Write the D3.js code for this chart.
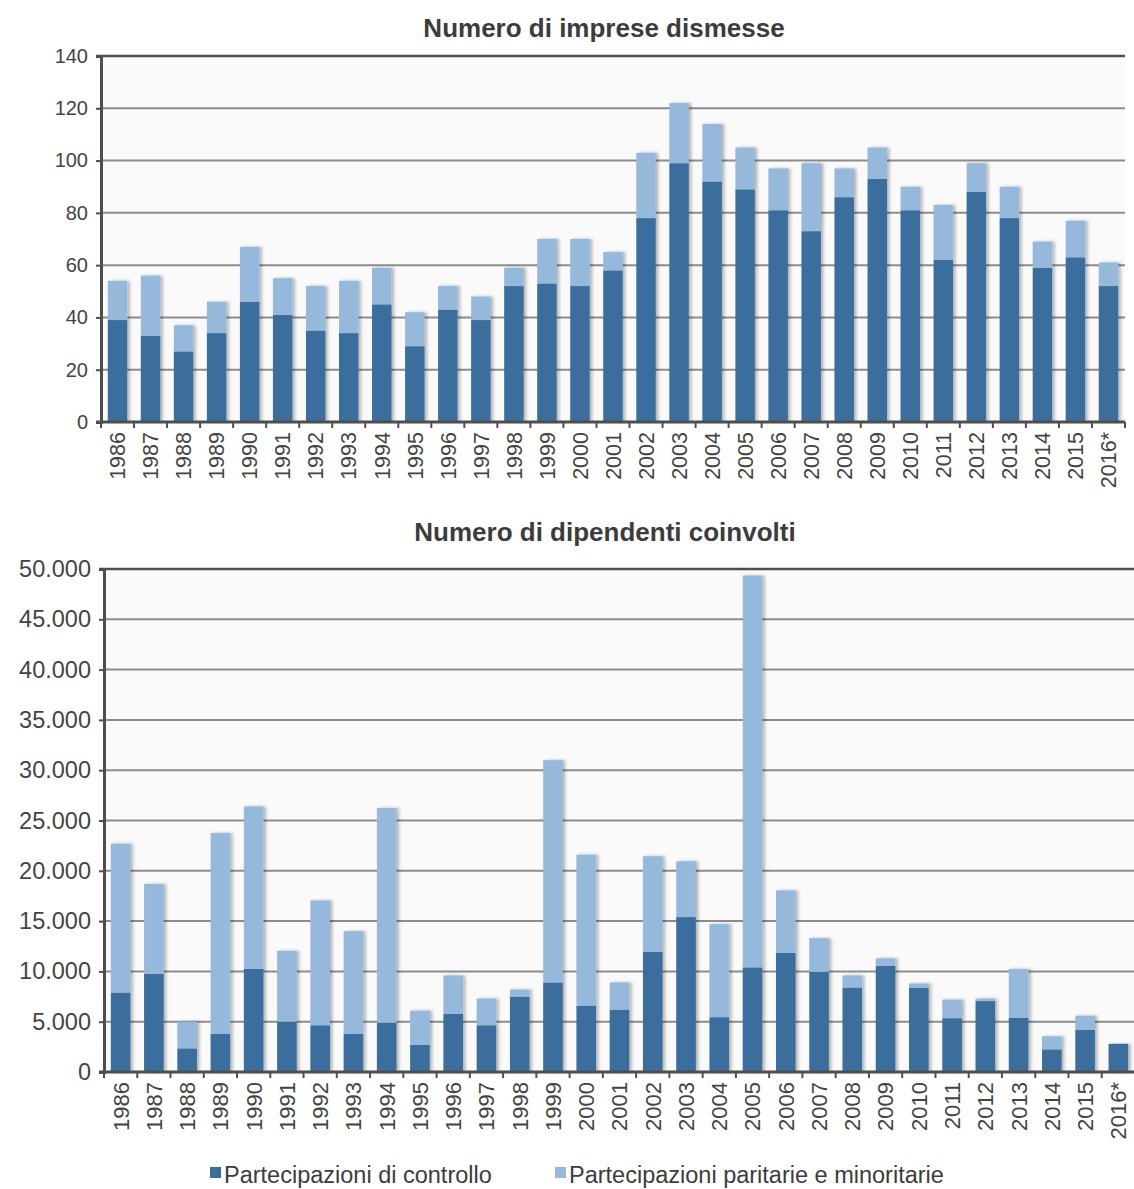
<!DOCTYPE html>
<html>
<head>
<meta charset="utf-8">
<script src="https://cdn.jsdelivr.net/npm/d3@7"></script>
<style>
  html, body { margin: 0; padding: 0; background: #ffffff; }
  svg { display: block; font-family: "Liberation Sans", Arial, Helvetica, sans-serif; }
</style>
</head>
<body>
<svg id="chart" width="1134" height="1189"></svg>
<script>
// Anni di riferimento (2016* = dato provvisorio)
const years = ["1986","1987","1988","1989","1990","1991","1992","1993","1994","1995",
  "1996","1997","1998","1999","2000","2001","2002","2003","2004","2005","2006","2007",
  "2008","2009","2010","2011","2012","2013","2014","2015","2016*"];

// Numero di imprese dismesse
const impreseControllo = [39,33,27,34,46,41,35,34,45,29,43,39,52,53,52,58,78,99,92,89,81,73,86,93,81,62,88,78,59,63,52];
const impreseMinoritarie = [15,23,10,12,21,14,17,20,14,13,9,9,7,17,18,7,25,23,22,16,16,26,11,12,9,21,11,12,10,14,9];
const impreseTicks = [0,20,40,60,80,100,120,140];

// Numero di dipendenti coinvolti
const dipendentiControllo = [7900,9750,2350,3800,10250,5000,4650,3800,4900,2700,5800,4650,7500,8900,6600,
  6200,11950,15400,5450,10400,11850,9950,8400,10550,8350,5350,7050,5400,2250,4200,2800];
const dipendentiMinoritarie = [14800,8950,2650,19950,16150,7050,12400,10200,21350,3400,3800,2650,700,22100,15000,
  2700,9500,5550,9250,38950,6200,3350,1200,750,450,1850,250,4850,1300,1400,0];
const dipendentiTicks = [0,5000,10000,15000,20000,25000,30000,35000,40000,45000,50000];

const seriesNames = ["Partecipazioni di controllo", "Partecipazioni paritarie e minoritarie"];
const seriesColors = ["#3b6e9c", "#96b9db"];

const itLocale = d3.formatLocale({ decimal: ",", thousands: ".", grouping: [3], currency: ["€", ""] });
const fmtIt = itLocale.format(",d");

const svg = d3.select("#chart");

// soft shadow on the right side of each bar
const defs = svg.append("defs");
const shadow = defs.append("filter").attr("id", "barShadow")
  .attr("x", "-20%").attr("y", "-5%").attr("width", "160%").attr("height", "110%");
shadow.append("feDropShadow")
  .attr("dx", 2.5).attr("dy", 0).attr("stdDeviation", 1.6)
  .attr("flood-color", "#000").attr("flood-opacity", 0.28);

function drawPanel(cfg) {
  const g = svg.append("g");
  const x = d3.scaleBand().domain(years).range([cfg.left, cfg.right]).paddingInner(0.41).paddingOuter(0.205);
  const y = d3.scaleLinear().domain([0, cfg.max]).range([cfg.bottom, cfg.top]);

  // plot background
  g.append("rect")
    .attr("x", cfg.left).attr("y", cfg.top)
    .attr("width", cfg.right - cfg.left).attr("height", cfg.bottom - cfg.top)
    .attr("fill", "#fafafa");

  // title
  g.append("text")
    .attr("x", cfg.titleX).attr("y", cfg.titleY)
    .attr("text-anchor", "middle")
    .attr("font-size", 26).attr("font-weight", "bold").attr("fill", "#3c3c3c")
    .text(cfg.title);

  // horizontal gridlines
  g.append("g").selectAll("line")
    .data(cfg.ticks.filter(t => t > 0 && t < cfg.max))
    .join("line")
    .attr("x1", cfg.left).attr("x2", cfg.right)
    .attr("y1", d => y(d)).attr("y2", d => y(d))
    .attr("stroke", "#8c8c8c").attr("stroke-width", 2);

  // top frame line
  g.append("line")
    .attr("x1", cfg.left - 5).attr("x2", cfg.right)
    .attr("y1", y(cfg.max)).attr("y2", y(cfg.max))
    .attr("stroke", "#4e4e4e").attr("stroke-width", 2.5);

  // stacked bars
  const stackData = years.map((yr, i) => ({ year: yr, a: cfg.control[i], b: cfg.minority[i] }));
  const stacked = d3.stack().keys(["a", "b"])(stackData);
  g.append("g").attr("filter", "url(#barShadow)")
    .selectAll("g")
    .data(stacked)
    .join("g")
    .attr("fill", (d, i) => seriesColors[i])
    .selectAll("rect")
    .data(d => d.filter(s => s[1] - s[0] > 0))
    .join("rect")
    .attr("x", d => x(d.data.year))
    .attr("width", x.bandwidth())
    .attr("y", d => y(d[1]))
    .attr("height", d => y(d[0]) - y(d[1]));

  // y axis
  const yAxis = d3.axisLeft(y).tickValues(cfg.ticks).tickSize(5).tickPadding(8).tickFormat(cfg.format);
  const ya = g.append("g").attr("transform", `translate(${cfg.left},0)`).call(yAxis);
  ya.select(".domain").attr("stroke", "#4e4e4e").attr("stroke-width", 3);
  ya.selectAll(".tick line").attr("stroke", "#4e4e4e").attr("stroke-width", 2);
  ya.selectAll(".tick text")
    .attr("font-size", cfg.yFont).attr("fill", "#444")
    .attr("font-family", "Liberation Sans, Arial, sans-serif");

  // x axis: baseline, ticks at category boundaries, rotated year labels
  g.append("line")
    .attr("x1", cfg.left - 5).attr("x2", cfg.right)
    .attr("y1", cfg.bottom).attr("y2", cfg.bottom)
    .attr("stroke", "#4e4e4e").attr("stroke-width", 3);
  const step = x.step();
  g.append("g").selectAll("line")
    .data(d3.range(years.length + 1))
    .join("line")
    .attr("x1", i => cfg.left + i * step).attr("x2", i => cfg.left + i * step)
    .attr("y1", cfg.bottom).attr("y2", cfg.bottom + 6)
    .attr("stroke", "#4e4e4e").attr("stroke-width", 2);
  g.append("g").selectAll("text")
    .data(years)
    .join("text")
    .attr("transform", d => `translate(${x(d) + x.bandwidth() / 2},${cfg.bottom + 10}) rotate(-90)`)
    .attr("text-anchor", "end")
    .attr("dy", "0.36em")
    .attr("font-size", cfg.xFont).attr("fill", "#444")
    .text(d => d);
}

drawPanel({
  title: "Numero di imprese dismesse", titleX: 604, titleY: 37,
  left: 101, right: 1125, top: 56, bottom: 422,
  max: 140, ticks: impreseTicks, format: d3.format("d"), yFont: 20, xFont: 21.5,
  control: impreseControllo, minority: impreseMinoritarie
});

drawPanel({
  title: "Numero di dipendenti coinvolti", titleX: 605, titleY: 541,
  left: 104, right: 1135, top: 569, bottom: 1072,
  max: 50000, ticks: dipendentiTicks, format: fmtIt, yFont: 23.5, xFont: 22,
  control: dipendentiControllo, minority: dipendentiMinoritarie
});

// legend
const legend = svg.append("g");
const legendX = [210, 555];
seriesNames.forEach((name, i) => {
  legend.append("rect")
    .attr("x", legendX[i]).attr("y", 1167)
    .attr("width", 11).attr("height", 11)
    .attr("fill", seriesColors[i]);
  legend.append("text")
    .attr("x", legendX[i] + 14).attr("y", 1183)
    .attr("font-size", 23.5).attr("fill", "#3c3c3c")
    .text(name);
});
</script>
</body>
</html>
